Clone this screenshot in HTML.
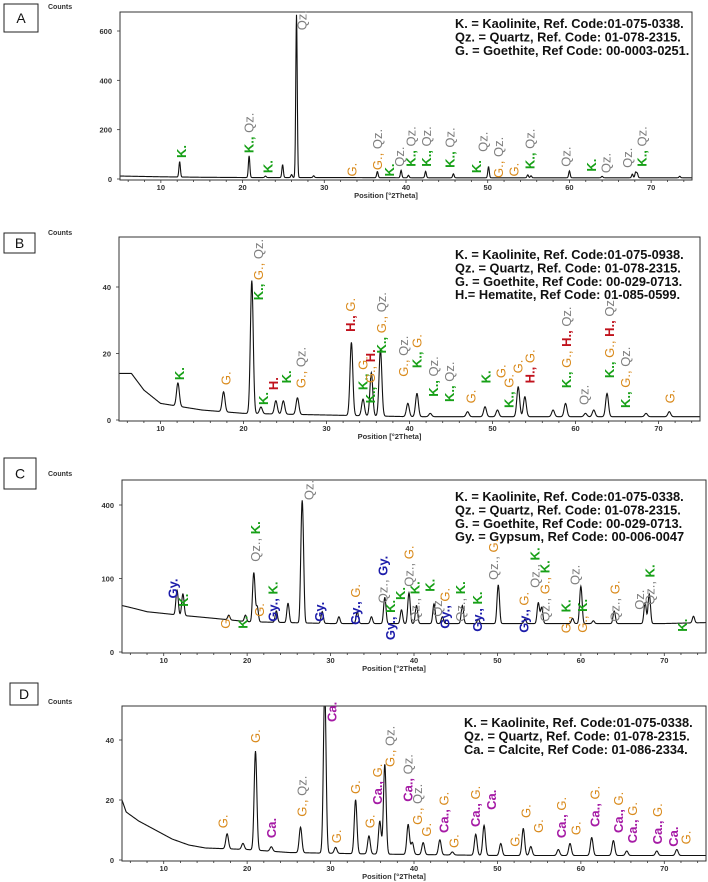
<!DOCTYPE html>
<html><head><meta charset="utf-8"><style>
html,body{margin:0;padding:0;background:#fff;}
svg{display:block;font-family:"Liberation Sans",Arial,sans-serif;}
.lg{font-size:12.8px;font-weight:bold;fill:#111;}
.tk{font-size:7.5px;font-weight:bold;fill:#333;}
.lb{font-size:13px;}
</style></head><body>
<svg id="chart" width="708" height="882" viewBox="0 0 708 882"></svg>
<script>
// ---- Panel A ----
const aPeakPos=[12.3,20.8,22.8,24.9,26.0,26.6,28.7,36.5,39.4,40.3,42.4,45.8,50.1,54.9,55.3,60.0,64.0,67.7,68.1,68.3,73.5];
const aPeakHeight=[62,88,6,52,12,660,7,25,30,10,26,16,45,12,8,28,6,15,22,18,6];
const aBgPos=[5,10,15,20,30,40,50,60,75];
const aBgVal=[12,9,7,6,6,5,5,5,5];
const aLabelPos=[12.5,20.8,23.1,27.3,33.4,36.5,38.0,39.2,40.6,42.5,45.4,48.6,49.4,51.3,53.2,55.2,59.6,62.7,64.5,67.1,68.9];
const aLabelCount=[85,105,24,603,10,36,10,50,50,50,45,24,110,4,10,40,50,30,24,45,50];
const aLabelText=["K.","K., Qz.","K.","Qz.","G.","G., Qz.","K.","Qz.","K., Qz.","K., Qz.","K., Qz.","K.","Qz.","G., Qz.","G.","K., Qz.","Qz.","K.","Qz.","Qz.","K., Qz."];
const aYTicks=[0,200,400,600];
// ---- Panel B ----
const bPeakPos=[12.1,17.6,21.0,22.1,23.9,24.8,26.5,33.0,34.4,35.4,36.5,39.8,40.9,42.5,47.0,49.1,50.6,53.1,53.9,57.3,58.8,61.2,62.2,63.8,68.5,71.3];
const bPeakHeight=[7,6,40,2,4,4,5,22,5,13,20,4,7,1,1.5,3,2,9,6,2,4,1,2,7,1,1.5];
const bBgPos=[5,6.5,8,10,15,20,30,40,50,75];
const bBgVal=[14,14,9,5,3,2,1.5,1,1,1];
const bLabelPos=[12.3,17.9,21.8,22.4,23.6,25.2,26.9,32.9,34.4,35.3,36.6,39.3,40.9,42.9,44.8,47.4,49.2,51.0,52.0,53.1,54.5,58.9,61.0,64.1,66.0,71.4];
const bLabelCount=[12,10.5,36,4.5,9,11,9.6,26.5,9,5,20,13,15.6,7,5.4,5,11,12.6,3.6,14,11,9.6,4.5,12.6,3.6,5];
const bLabelText=["K.","G.","K., G., Qz.","K.","H.","K.","G., Qz.","H., G.","K., G.","K., G., H.","K., G., Qz.","G., Qz.","K., G.","K., Qz.","K., Qz.","G.","K.","G.","K., G.","G.","H., G.","K., G., H., Qz.","Qz.","K., G., H., Qz.","K., G., Qz.","G."];
const bYTicks=[0,20,40];
// ---- Panel C (square-root scale) ----
const cPeakPos=[11.6,12.3,17.8,19.8,20.8,21.2,23.5,24.9,26.6,29.0,31.0,33.2,34.9,36.5,38.5,39.4,40.3,42.4,43.4,45.8,47.7,50.1,53.3,54.9,55.3,59.0,60.0,61.5,64.0,67.7,68.2,73.5];
const cPeakHeight=[45,38,6,8,100,22,15,28,410,15,8,15,8,40,18,50,25,28,8,25,5,68,5,30,22,6,65,3,16,30,47,8];
const cBgPos=[5,8,12,17,20,30,50,70,75];
const cBgVal=[40,30,25,20,17,15,15,15,16];
const cLabelPos=[11.1,12.4,17.4,19.5,21.0,21.5,23.1,27.4,28.7,33.0,36.3,37.2,38.4,39.4,40.1,41.9,42.8,43.7,45.6,47.6,49.5,53.2,54.5,55.7,58.2,59.3,60.2,64.1,67.0,68.3,72.2];
const cLabelCount=[53,38,10,10,151,23,17,427,17,13.6,44,2.6,50,79,17,67,23,10,17,7.6,96,6.8,76,17,6.5,83,6.8,17,33,41,7.6];
const cLabelText=["Gy.","K.","G.","K.","Qz., K.","G.","Gy., K.","Qz.","Gy.","Gy., G.","Qz., Gy.","Gy., K.","K.","Qz., G.","Qz., K.","K.","Qz.","Gy., G.","Qz., K.","Gy., K.","Qz., G.","Gy., G.","Qz., K.","Qz., G., K.","G., K.","Qz.","G., K.","Qz., G.","Qz.","Qz., K.","K."];
const cYTicks=[0,100,400];
// ---- Panel D ----
const dPeakPos=[17.6,19.5,21.0,22.9,26.4,29.3,30.6,33.0,34.6,35.9,36.5,39.3,39.8,41.1,43.1,44.6,47.4,48.4,50.4,53.1,54.0,57.3,58.7,61.3,63.9,65.5,69.1,71.5];
const dPeakHeight=[5,2,33,1.5,8.5,55,2,18,6,11,30,10,4,4,5,1,7,10,4,9,3,2,4,6,5,1.5,1.5,2];
const dBgPos=[5,5.5,7,9,11,13,15,20,25,35,50,75];
const dBgVal=[20,16,13,10,7,5,4,3.5,2.5,2,1.5,1.5];
const dLabelPos=[17.1,21.0,22.9,26.6,30.2,30.7,33.0,34.7,35.6,37.1,39.3,40.4,41.5,43.6,44.8,47.4,49.3,52.1,53.4,54.9,57.7,59.4,61.7,64.5,66.2,69.2,71.1,72.6];
const dLabelCount=[10.6,39,7.3,14.4,46,5.6,22,10.6,18.4,31,19.4,11.7,7.8,9,4,11,16.7,4.4,14,9,7.3,8.3,11,9,5.6,5.2,4.4,5.2];
const dLabelText=["G.","G.","Ca.","G., Qz.","Ca.","G.","G.","G.","Ca., G.","G., Qz.","Ca., Qz.","G., Qz.","G.","Ca., G.","G.","Ca., G.","Ca.","G.","G.","G.","Ca., G.","G.","Ca., G.","Ca., G.","Ca., G.","Ca., G.","Ca.","G."];
const dYTicks=[0,20,40];
const xTicks=[10,20,30,40,50,60,70];

const NS="http://www.w3.org/2000/svg";
const svg=document.getElementById('chart');
function mk(tag,attrs,parent){const e=document.createElementNS(NS,tag);for(const k in attrs)e.setAttribute(k,attrs[k]);(parent||svg).appendChild(e);return e;}
const COLORS={"K":"#17a017","Qz":"#808080","G":"#d98a1c","H":"#c0121c","Gy":"#1c1caa","Ca":"#a51aa5"};

function interp(xs,ys,x){if(x<=xs[0])return ys[0];for(let i=1;i<xs.length;i++){if(x<=xs[i]){const t=(x-xs[i-1])/(xs[i]-xs[i-1]);return ys[i-1]+t*(ys[i]-ys[i-1]);}}return ys[ys.length-1];}

function panel(p){
  const g=mk('g',{});
  
  
  const xs=d=>p.left+(d-5)/70*(p.right-p.left);
  const ys=c=>p.sqrt? p.zero-p.k*Math.sqrt(Math.max(c,0)) : p.zero-p.k*c;
  const bx=mk('rect',{x:p.box[0],y:p.box[1],width:p.box[2],height:p.box[3],fill:'#fff',stroke:'#222','stroke-width':1},g);
  
  
  const bt=mk('text',{x:p.box[0]+p.box[2]/2,y:p.box[1]+p.box[3]/2+5,'text-anchor':'middle','font-size':14,fill:'#111'},g);
  bt.textContent=p.id;
  
  
  const ct=mk('text',{x:48,y:p.countsY,'font-size':7,'font-weight':'bold',fill:'#333'},g);
  ct.textContent='Counts';
  
  
  const cid='clip'+p.id;
  const cp=mk('clipPath',{id:cid},g);
  mk('rect',{x:p.left,y:p.top,width:p.right-p.left,height:p.zero+2-p.top},cp);
  let d='';
  for(let t=5;t<=75.0001;t+=0.04){
    let c=interp(p.bgPos,p.bgVal,t);
    for(let i=0;i<p.peakPos.length;i++){const u=(t-p.peakPos[i])/p.sigma;c+=p.peakHeight[i]*Math.exp(-0.5*u*u);}
    d+=(d?'L':'M')+xs(t).toFixed(2)+','+ys(c).toFixed(2);
  }
  const ln=mk('path',{d:d,fill:'none',stroke:'#111','stroke-width':1.1,'clip-path':'url(#'+cid+')'},g);
  
  
  const fr=mk('rect',{x:p.left,y:p.top,width:p.right-p.left,height:p.zero+1-p.top,fill:'none',stroke:'#333','stroke-width':1},g);
  
  
  for(let t=6;t<=74;t+=2){const major=t%10===0;mk('line',{x1:xs(t),x2:xs(t),y1:p.zero+1,y2:p.zero+(major?4:3),stroke:'#333','stroke-width':0.8},g);}
  xTicks.forEach(t=>{const tx=mk('text',{x:xs(t),y:p.zero+11,'text-anchor':'middle',class:'tk'},g);tx.textContent=t;
    
    });
  p.yTicks.forEach(v=>{mk('line',{x1:p.left-3,x2:p.left,y1:ys(v),y2:ys(v),stroke:'#333','stroke-width':0.8},g);
    const ty=mk('text',{x:p.left-8,y:ys(v)+3,'text-anchor':'end',class:'tk'},g);ty.textContent=v;
    
    });
  const xt=mk('text',{x:(p.left+p.right)/2-20,y:p.zero+19,'text-anchor':'middle','font-size':7.5,'font-weight':'bold',fill:'#333'},g);
  xt.textContent='Position [°2Theta]';
  
  
  p.legend.forEach((s,i)=>{const lt=mk('text',{x:p.legX,y:p.legY+i*13.4,class:'lg'},g);lt.textContent=s;
    
    });
  for(let i=0;i<p.labelPos.length;i++){
    const x=xs(p.labelPos[i]),y=ys(p.labelCount[i]);
    const tx=mk('text',{transform:'translate('+(x+4.5).toFixed(1)+','+y.toFixed(1)+') rotate(-90)',class:'lb'},g);
    
    
    p.labelText[i].split(' ').forEach((tok,j)=>{
      const key=tok.replace(/[.,]/g,'');
      const ts=mk('tspan',{fill:COLORS[key]||'#333','font-weight':(key==='Qz'||key==='G')?'normal':'bold'},tx);
      ts.textContent=(j?' ':'')+tok;
    });
  }
}

panel({id:'A',left:120,right:692,top:12,zero:179,k:148/600,sqrt:false,sigma:0.09,
  peakPos:aPeakPos,peakHeight:aPeakHeight,bgPos:aBgPos,bgVal:aBgVal,labelPos:aLabelPos,labelCount:aLabelCount,labelText:aLabelText,yTicks:aYTicks,
  box:[4,4,34,28],countsY:9,legX:455,legY:28,
  legend:["K. = Kaolinite, Ref. Code:01-075-0338.","Qz. = Quartz, Ref. Code: 01-078-2315.","G. = Goethite, Ref Code: 00-0003-0251."]});
panel({id:'B',left:119,right:700,top:237,zero:420,k:3.325,sqrt:false,sigma:0.17,
  peakPos:bPeakPos,peakHeight:bPeakHeight,bgPos:bBgPos,bgVal:bBgVal,labelPos:bLabelPos,labelCount:bLabelCount,labelText:bLabelText,yTicks:bYTicks,
  box:[4,233,31,20],countsY:235,legX:455,legY:259,
  legend:["K. = Kaolinite, Ref. Code:01-075-0938.","Qz. = Quartz, Ref. Code: 01-078-2315.","G. = Goethite, Ref Code: 00-029-0713.","H.= Hematite, Ref Code: 01-085-0599."]});
panel({id:'C',left:122,right:706,top:480,zero:652,k:7.35,sqrt:true,sigma:0.13,
  peakPos:cPeakPos,peakHeight:cPeakHeight,bgPos:cBgPos,bgVal:cBgVal,labelPos:cLabelPos,labelCount:cLabelCount,labelText:cLabelText,yTicks:cYTicks,
  box:[4,458,32,31],countsY:476,legX:455,legY:501,
  legend:["K. = Kaolinite, Ref. Code:01-075-0338.","Qz. = Quartz, Ref. Code: 01-078-2315.","G. = Goethite, Ref Code: 00-029-0713.","Gy. = Gypsum, Ref Code: 00-006-0047"]});
panel({id:'D',left:122,right:706,top:706,zero:860,k:3.0,sqrt:false,sigma:0.16,
  peakPos:dPeakPos,peakHeight:dPeakHeight,bgPos:dBgPos,bgVal:dBgVal,labelPos:dLabelPos,labelCount:dLabelCount,labelText:dLabelText,yTicks:dYTicks,
  box:[10,683,28,22],countsY:704,legX:464,legY:727,
  legend:["K. = Kaolinite, Ref. Code:01-075-0338.","Qz. = Quartz, Ref. Code: 01-078-2315.","Ca. = Calcite, Ref Code: 01-086-2334."]});
</script>
</body></html>
